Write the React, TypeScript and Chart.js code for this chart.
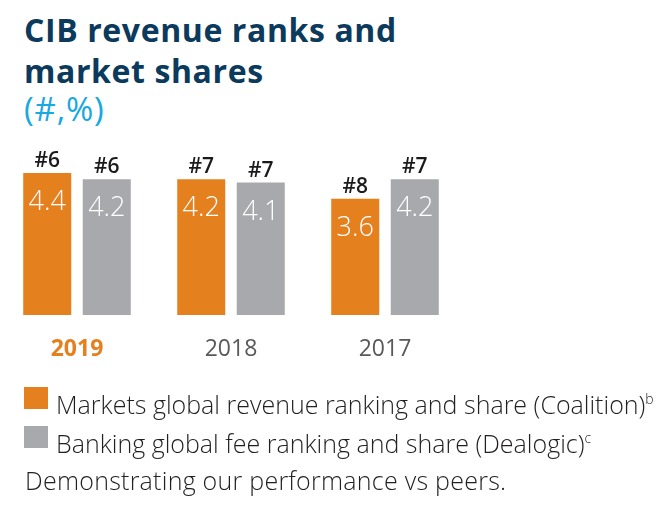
import React, { useEffect, useRef } from "react";
import { Chart, registerables } from "chart.js";

Chart.register(...registerables);

const categories = ["2019", "2018", "2017"];
const marketsShare = [4.4, 4.2, 3.6];
const bankingShare = [4.2, 4.1, 4.2];
const marketsRank = ["#6", "#7", "#8"];
const bankingRank = ["#6", "#7", "#7"];
const seriesNames = [
  "Markets global revenue ranking and share (Coalition)",
  "Banking global fee ranking and share (Dealogic)",
];
const footnoteMarks = ["b", "c"];

const ORANGE = "#e5801f";
const GREY = "#a7a9ac";
const FONT = "'Open Sans', 'Noto Sans', sans-serif";

const barLabels = {
  id: "barLabels",
  afterDatasetsDraw(chart: any) {
    const ctx = chart.ctx;
    const ranks = [marketsRank, bankingRank];
    chart.data.datasets.forEach((ds: any, di: number) => {
      const meta = chart.getDatasetMeta(di);
      meta.data.forEach((bar: any, i: number) => {
        const v = ds.data[i];
        ctx.save();
        ctx.textAlign = "center";
        ctx.textBaseline = "alphabetic";
        ctx.fillStyle = "#ffffff";
        ctx.font = `300 27px ${FONT}`;
        ctx.fillText(v.toFixed(1), bar.x, bar.y + 37);
        ctx.fillStyle = "#1a1a1a";
        ctx.font = `600 21px ${FONT}`;
        ctx.fillText(ranks[di][i], bar.x, bar.y - 6);
        ctx.restore();
      });
    });
  },
};

function BarChart() {
  const ref = useRef<HTMLCanvasElement>(null);
  useEffect(() => {
    if (!ref.current) return;
    const chart = new Chart(ref.current, {
      type: "bar",
      data: {
        labels: categories,
        datasets: [
          {
            label: seriesNames[0],
            data: marketsShare,
            backgroundColor: ORANGE,
            categoryPercentage: 0.773,
            barPercentage: 0.807,
          },
          {
            label: seriesNames[1],
            data: bankingShare,
            backgroundColor: GREY,
            categoryPercentage: 0.773,
            barPercentage: 0.807,
          },
        ],
      },
      options: {
        animation: false,
        responsive: false,
        maintainAspectRatio: false,
        layout: { padding: { left: 0, right: 200, top: 23.5, bottom: 15.4 } },
        plugins: {
          legend: { display: false },
          tooltip: { enabled: false },
          title: { display: false },
        },
        scales: {
          x: {
            grid: { display: false, drawTicks: false, tickLength: 0 },
            border: { display: false },
            ticks: {
              padding: 21,
              color: [ORANGE, "#58595b", "#58595b"],
              font: (c: any) => ({
                family: FONT,
                size: 23,
                weight: c.index === 0 ? "bold" : "normal",
              }),
            },
          },
          y: {
            display: false,
            min: 0,
            max: 5,
          },
        },
      },
      plugins: [barLabels],
    });
    return () => chart.destroy();
  }, []);
  return (
    <canvas
      ref={ref}
      width={662}
      height={270}
      style={{ position: "absolute", left: 0, top: 130, width: 662, height: 270 }}
    />
  );
}

export default function App() {
  const textColor = "#231f20";
  return (
    <div
      style={{
        position: "absolute",
        left: 0,
        top: 0,
        width: 662,
        height: 511,
        background: "#fff",
        overflow: "hidden",
        fontFamily: FONT,
      }}
    >
      <div
        style={{
          position: "absolute",
          left: 24,
          top: 9,
          fontSize: 32,
          fontWeight: 700,
          color: "#0b3a5c",
          lineHeight: "41px",
          letterSpacing: 0.6,
          whiteSpace: "nowrap",
        }}
      >
        CIB revenue ranks and
        <br />
        market shares
      </div>
      <div
        style={{
          position: "absolute",
          left: 24,
          top: 89,
          fontSize: 33,
          color: "#19a8e0",
          lineHeight: "39px",
          letterSpacing: 0.8,
        }}
      >
        (#,%)
      </div>
      <BarChart />
      {[0, 1].map((i) => (
        <div key={i}>
          <div
            style={{
              position: "absolute",
              left: 24,
              top: 387 + i * 39,
              width: 24,
              height: 22,
              background: i === 0 ? ORANGE : GREY,
            }}
          />
          <div
            style={{
              position: "absolute",
              left: 56,
              top: 381 + i * 39,
              fontSize: 25,
              fontWeight: 300,
              color: textColor,
              lineHeight: "36px",
              whiteSpace: "nowrap",
            }}
          >
            {seriesNames[i]}
            <sup style={{ fontSize: 14, verticalAlign: "10px" }}>{footnoteMarks[i]}</sup>
          </div>
        </div>
      ))}
      <div
        style={{
          position: "absolute",
          left: 25,
          top: 462,
          fontSize: 25,
          fontWeight: 300,
          color: textColor,
          lineHeight: "36px",
          letterSpacing: 0.25,
          whiteSpace: "nowrap",
        }}
      >
        Demonstrating our performance vs peers.
      </div>
    </div>
  );
}
